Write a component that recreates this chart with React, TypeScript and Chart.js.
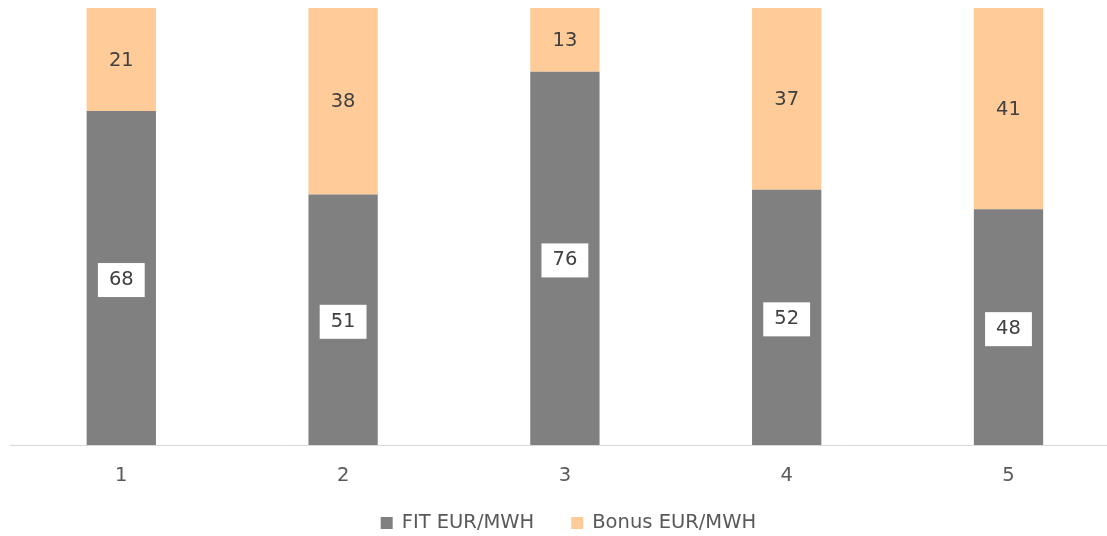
import React, { useEffect, useRef } from "react";
import { Chart, registerables } from "chart.js";

Chart.register(...registerables);

const categories = ["1", "2", "3", "4", "5"];
const fitValues = [68, 51, 76, 52, 48];
const bonusValues = [21, 38, 13, 37, 41];
const seriesNames = ["FIT EUR/MWH", "Bonus EUR/MWH"];
const seriesColors = ["#808080", "#FFCC99"];
const yMax = 89;

const FONT = '"DejaVu Sans", Verdana, sans-serif';
const FONT_SIZE = 19.5;

const segmentLabels = {
  id: "segmentLabels",
  afterDatasetsDraw(chart: any) {
    const ctx = chart.ctx;
    ctx.save();
    ctx.font = `${FONT_SIZE}px ${FONT}`;
    ctx.textAlign = "center";
    ctx.textBaseline = "middle";
    chart.data.datasets.forEach((ds: any, di: number) => {
      const meta = chart.getDatasetMeta(di);
      meta.data.forEach((el: any, i: number) => {
        const { x, y, base } = el.getProps(["x", "y", "base"], true);
        const cy = (y + base) / 2;
        const text = String(ds.data[i]);
        if (di === 0) {
          const w = ctx.measureText(text).width + 22;
          ctx.fillStyle = "#ffffff";
          ctx.fillRect(x - w / 2, cy - 17 + 2, w, 34);
          ctx.fillStyle = "#404040";
          ctx.fillText(text, x, cy + 2);
        } else {
          ctx.fillStyle = "#404040";
          ctx.fillText(text, x, cy + 1);
        }
      });
    });
    ctx.restore();
  },
};

const bottomLegend = {
  id: "bottomLegend",
  afterDraw(chart: any) {
    const ctx = chart.ctx;
    const area = chart.chartArea;
    ctx.save();
    ctx.font = `${FONT_SIZE}px ${FONT}`;
    ctx.textBaseline = "middle";
    ctx.textAlign = "left";
    const box = 12;
    const gap = 9;
    const spacing = 37;
    const items = chart.data.datasets.map((ds: any) => ({
      text: ds.label,
      color: ds.backgroundColor,
      w: ctx.measureText(ds.label).width,
    }));
    const total =
      items.reduce((s: number, it: any) => s + box + gap + it.w, 0) +
      spacing * (items.length - 1);
    let x = (area.left + area.right) / 2 + 3.5 - total / 2;
    const cy = chart.height - 13;
    items.forEach((it: any) => {
      ctx.fillStyle = it.color;
      ctx.fillRect(x, cy - box / 2, box, box);
      x += box + gap;
      ctx.fillStyle = "#595959";
      ctx.fillText(it.text, x, cy);
      x += it.w + spacing;
    });
    ctx.restore();
  },
};

export default function App() {
  const canvasRef = useRef<HTMLCanvasElement | null>(null);

  useEffect(() => {
    if (!canvasRef.current) return;
    const chart = new Chart(canvasRef.current, {
      type: "bar",
      data: {
        labels: categories,
        datasets: [
          {
            label: seriesNames[0],
            data: fitValues,
            backgroundColor: seriesColors[0],
            borderWidth: 0,
            barPercentage: 0.3125,
            categoryPercentage: 1,
          },
          {
            label: seriesNames[1],
            data: bonusValues,
            backgroundColor: seriesColors[1],
            borderWidth: 0,
            barPercentage: 0.3125,
            categoryPercentage: 1,
          },
        ],
      },
      options: {
        responsive: false,
        animation: false,
        layout: { padding: { left: 10.4, right: 0.6, top: 8, bottom: 0 } },
        plugins: {
          legend: { display: false },
          tooltip: { enabled: false },
        },
        scales: {
          x: {
            stacked: true,
            grid: { display: false, drawTicks: false },
            border: { display: true, color: "#D9D9D9", width: 1 },
            ticks: {
              color: "#595959",
              font: { family: FONT, size: FONT_SIZE },
              padding: 19,
            },
            afterFit: (scale: any) => {
              scale.height = 91;
            },
          },
          y: {
            stacked: true,
            display: false,
            min: 0,
            max: yMax,
          },
        },
      },
      plugins: [segmentLabels, bottomLegend],
    });
    return () => chart.destroy();
  }, []);

  return (
    <div
      style={{
        position: "absolute",
        left: 0,
        top: 0,
        width: 1107,
        height: 536,
        overflow: "hidden",
        background: "#ffffff",
      }}
    >
      <canvas ref={canvasRef} width={1120} height={536} />
    </div>
  );
}
